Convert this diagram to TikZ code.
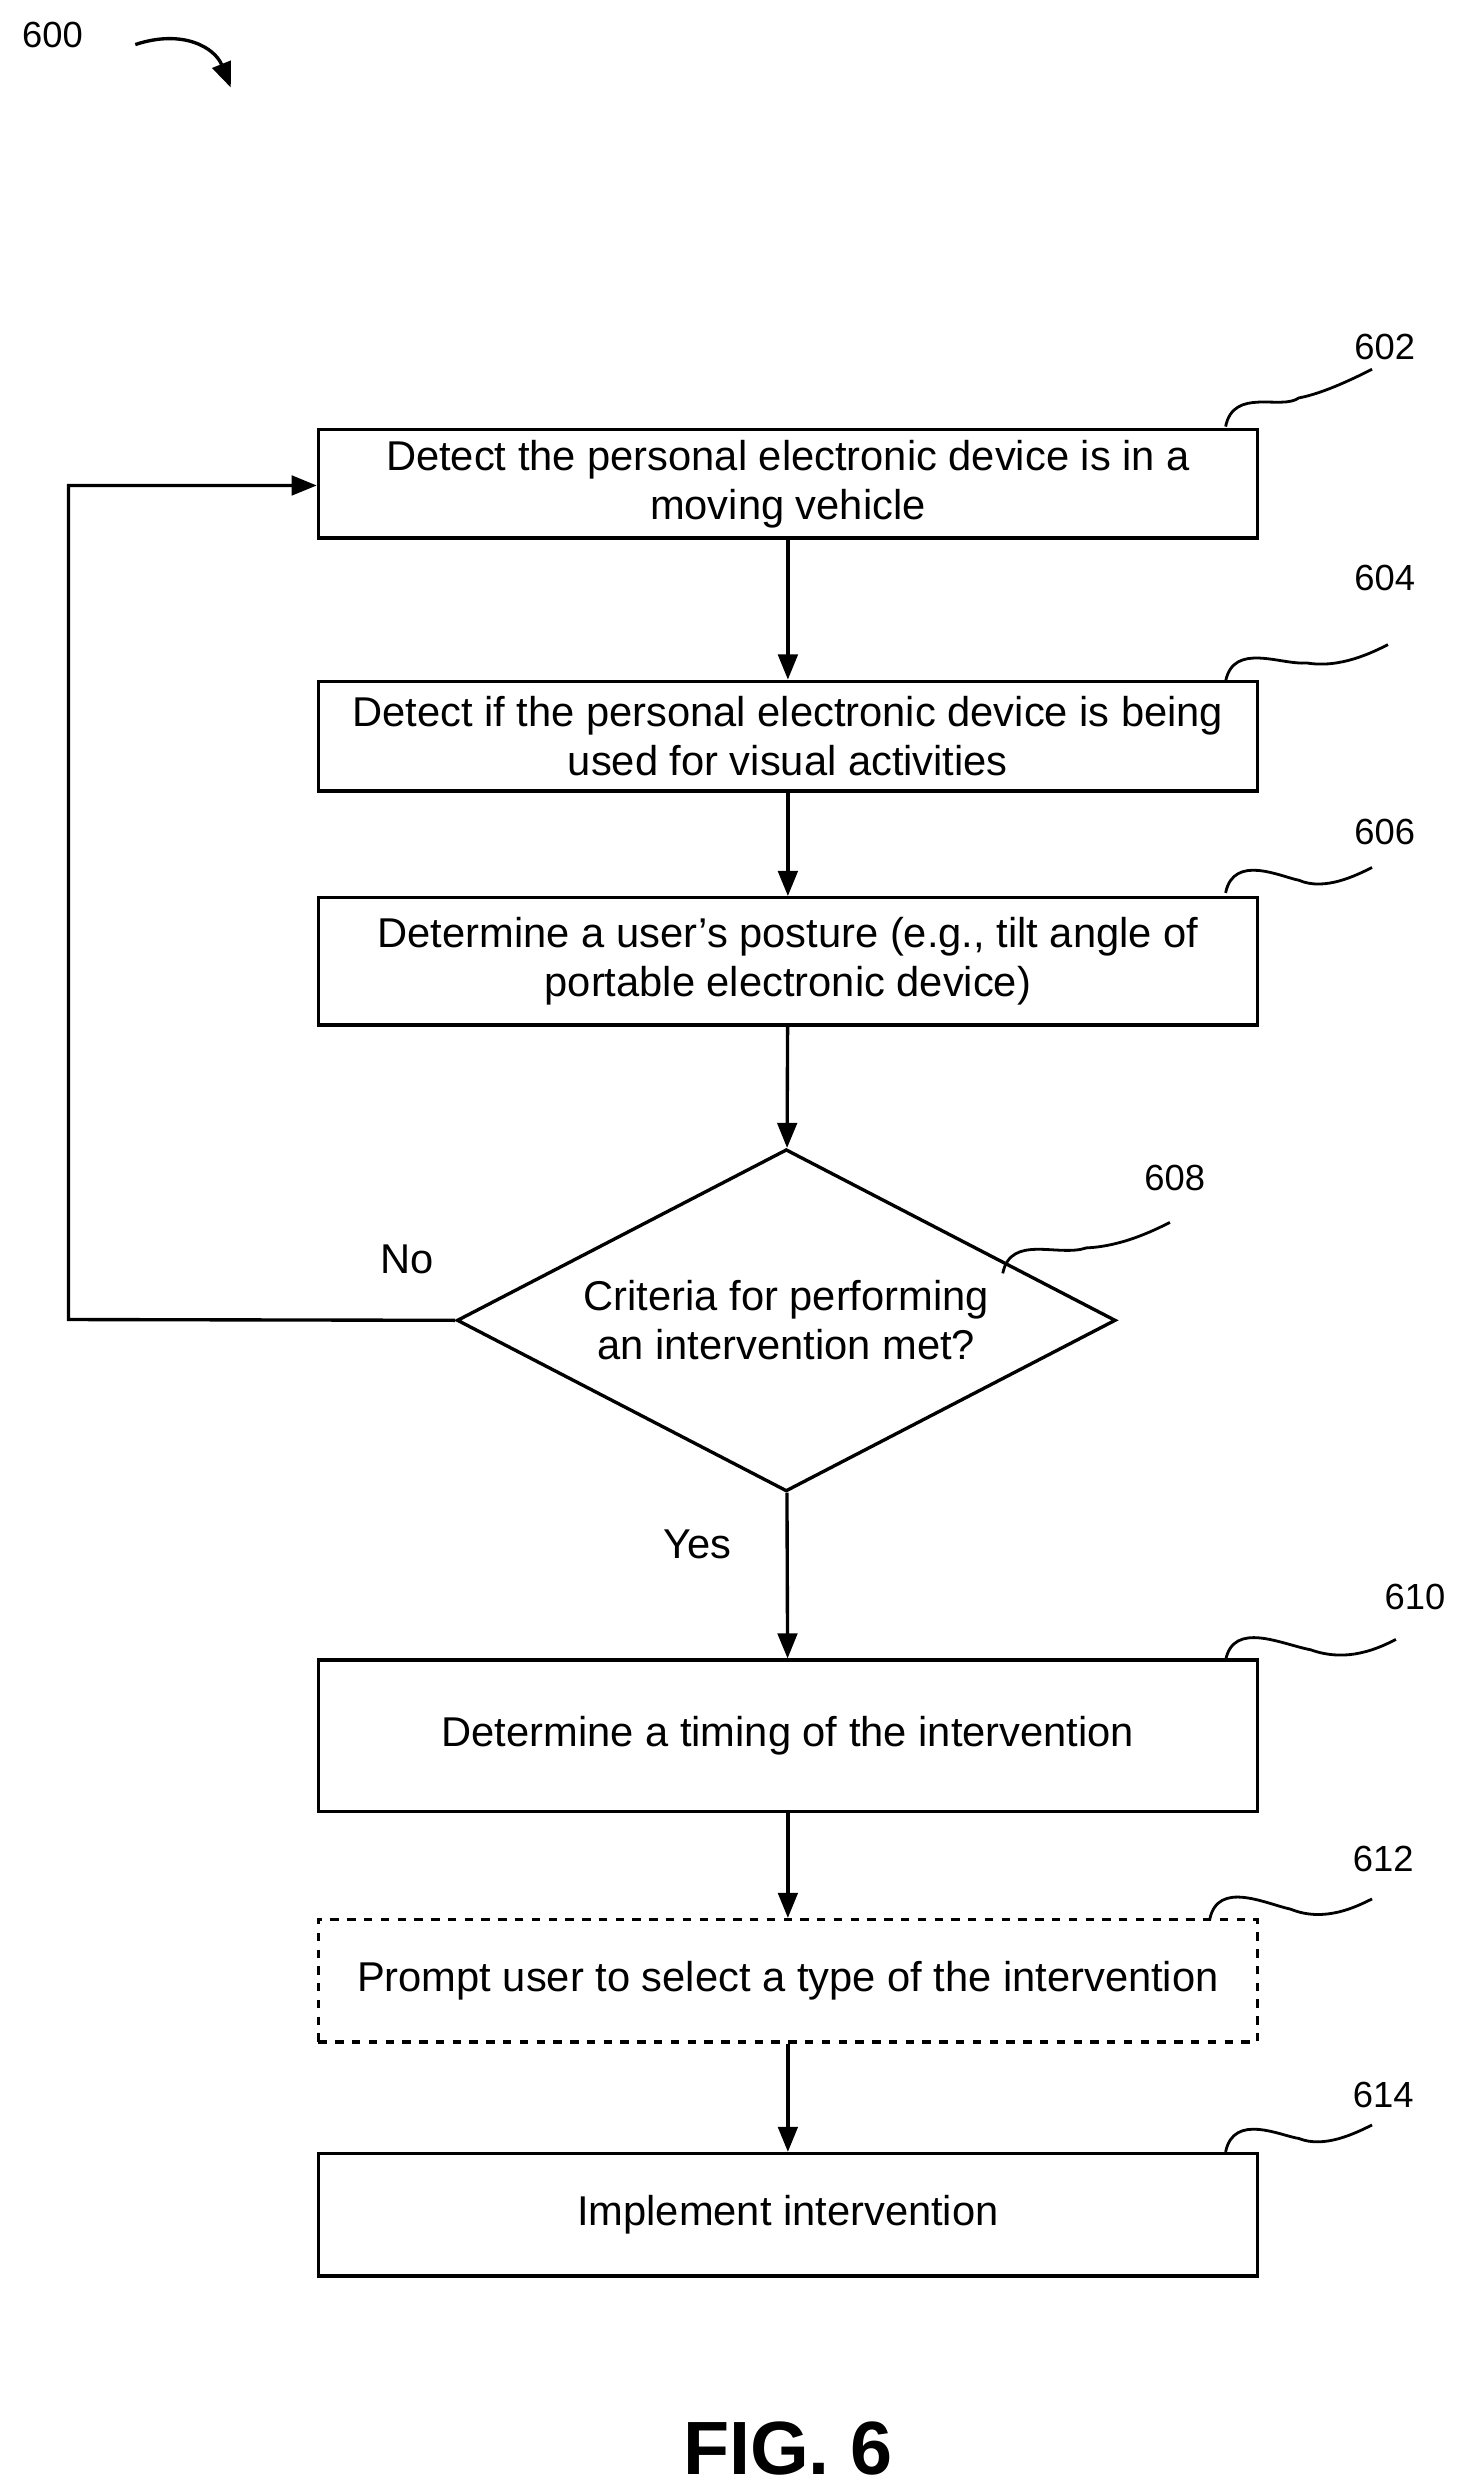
\documentclass[tikz,border=0pt]{standalone}
\usepackage{fontspec}
\setmainfont{Liberation Sans}
\usetikzlibrary{arrows.meta,shapes.geometric}
\begin{document}
\begin{tikzpicture}[x=0.02cm,y=-0.02cm,
  box/.style={draw,line width=1.2pt,minimum width=11.8cm,align=center,font=\fontsize{14.9}{17.6}\selectfont,inner sep=0pt},
  arr/.style={line width=1.2pt,-{Triangle[length=9pt,width=7pt]}},
  sq/.style={line width=1pt},
  lab/.style={font=\fontsize{13}{15}\selectfont}]
\useasboundingbox (0,0) rectangle (920,1565);
\node[box,minimum height=1.36cm] (b602) at (495,304) {Detect the personal electronic device is in a\\moving vehicle};
\node[box,minimum height=1.38cm] (b604) at (495,462.5) {Detect if the personal electronic device is being\\used for visual activities};
\node[box,minimum height=1.6cm] (b606) at (495,604) {Determine a user’s posture (e.g., tilt angle of\\portable electronic device)};
\node[draw,line width=1.2pt,diamond,aspect=1.925,minimum width=8.28cm,minimum height=4.3cm,inner sep=0pt,align=center,font=\fontsize{14.9}{17.6}\selectfont] (d608) at (494,829.5) {Criteria for performing\\an intervention met?};
\node[box,minimum height=1.9cm] (b610) at (495,1090.5) {Determine a timing of the intervention};
\node[box,dashed,minimum height=1.54cm] (b612) at (495,1244.5) {Prompt user to select a type of the intervention};
\node[box,minimum height=1.54cm] (b614) at (495,1391.5) {Implement intervention};
\draw[arr] (b602) -- (b604);
\draw[arr] (b604) -- (b606);
\draw[arr] (b606) -- (d608);
\draw[arr] (d608) -- (b610);
\draw[arr] (b610) -- (b612);
\draw[arr] (b612) -- (b614);
\coordinate (c1) at (43,829);
\coordinate (c2) at (43,305);
\draw[arr] (d608.west) -- (c1) -- (c2) -- (b602.west |- c2);
\node[lab,font=\fontsize{14.9}{17}\selectfont] (no) at (256,791) {No};
\node[lab,font=\fontsize{14.9}{17}\selectfont] (yes) at (438,970) {Yes};
\node[lab] (n600) at (33,22) {600};
\node[lab] (n602) at (870,218) {602};
\node[lab] (n604) at (870,363) {604};
\node[lab] (n606) at (870,523) {606};
\node[lab] (n608) at (738,740) {608};
\node[lab] (n610) at (889,1003) {610};
\node[lab] (n612) at (869,1168) {612};
\node[lab] (n614) at (869,1316) {614};
\node[font=\fontsize{27}{31}\bfseries] (fig) at (495,1538) {FIG. 6};
\draw[line width=1.2pt,-{Triangle[length=9pt,width=7pt]}] (85,28) .. controls (115,18) and (135,30) .. (145,55);
\foreach \x/\y/\ex/\ey in {770/268/862/232, 770/428/872/405, 770/561/862/545, 630/800/735/768, 770/1043/877/1030, 760/1206/862/1193, 770/1352/862/1335}{
  \draw[sq] (\x,\y) .. controls ({\x+5},{\y-25}) and ({\x+35},{\y-10}) .. ({(\x+\ex)/2},{(\y+\ey)/2})
     .. controls ({\ex-30},{\ey+15}) and ({\ex-10},{\ey+5}) .. (\ex,\ey);
}
\end{tikzpicture}
\end{document}
